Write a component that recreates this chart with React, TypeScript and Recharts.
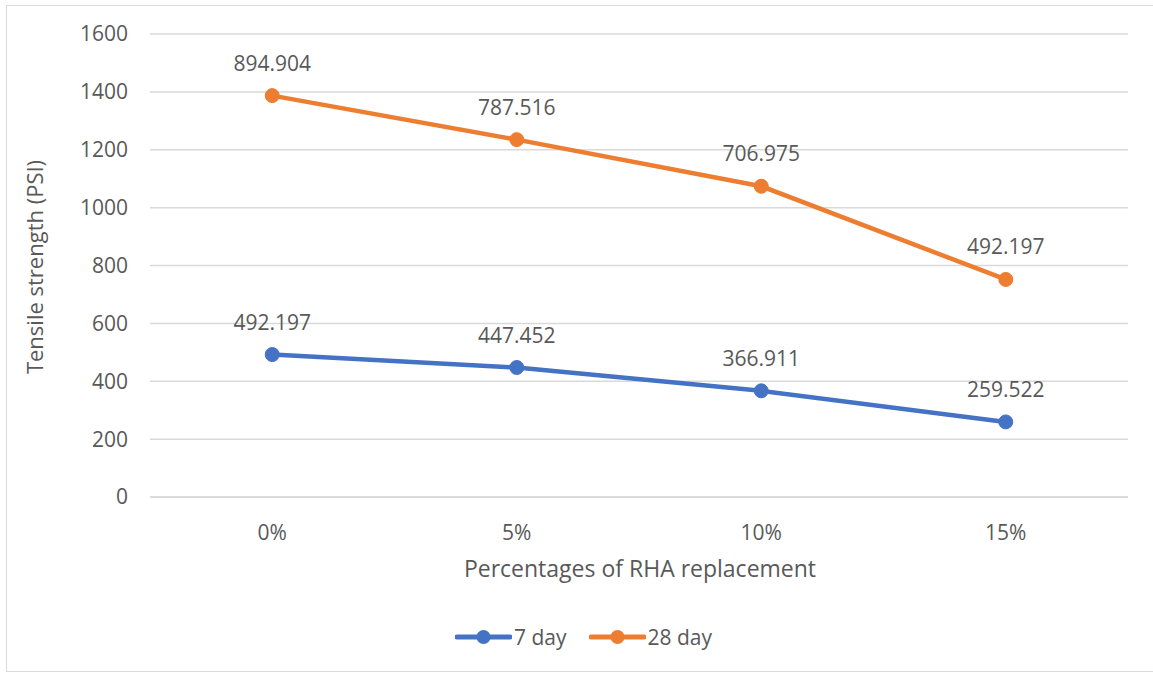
import { LineChart, Line, XAxis, YAxis, CartesianGrid, LabelList } from 'recharts';

const categories = ['0%', '5%', '10%', '15%'];
const day7 = [492.197, 447.452, 366.911, 259.522];
const day28 = [894.904, 787.516, 706.975, 492.197];
const yTicks = [0, 200, 400, 600, 800, 1000, 1200, 1400, 1600];

// Excel stacked line: 28 day is drawn on top of 7 day
const data = categories.map((c, i) => ({
  cat: c,
  d7: day7[i],
  d28: day28[i],
  top: day7[i] + day28[i],
}));

const BLUE = '#4472C4';
const ORANGE = '#ED7D31';
const TEXT = '#595959';
const FONT = '"Open Sans", sans-serif';

function LegendItem({ color, label }: { color: string; label: string }) {
  return (
    <div style={{ display: 'flex', alignItems: 'center', marginRight: 22 }}>
      <svg width={57} height={16}>
        <line x1={2} y1={8} x2={55} y2={8} stroke={color} strokeWidth={5} strokeLinecap="round" />
        <circle cx={28.5} cy={8} r={7} fill={color} />
      </svg>
      <span style={{ marginLeft: 2, fontSize: 21, color: TEXT }}>{label}</span>
    </div>
  );
}

export default function App() {
  return (
    <div
      style={{
        position: 'absolute',
        left: 0,
        top: 0,
        width: 1153,
        height: 674,
        background: '#fff',
        fontFamily: FONT,
      }}
    >
      <div
        style={{
          position: 'absolute',
          left: 6,
          top: 5,
          width: 1150,
          height: 667,
          border: '1px solid #d9d9d9',
          boxSizing: 'border-box',
        }}
      />
      <div style={{ position: 'absolute', left: 0, top: 0 }}>
        <LineChart
          width={1153}
          height={674}
          data={data}
          margin={{ top: 34, right: 25, bottom: 117, left: 70 }}
        >
          <CartesianGrid vertical={false} stroke="#d9d9d9" strokeWidth={1.5} />
          <XAxis
            dataKey="cat"
            scale="band"
            axisLine={{ stroke: '#d9d9d9', strokeWidth: 1.5 }}
            tickLine={false}
            tickSize={0}
            tickMargin={28}
            tick={{ fill: TEXT, fontSize: 21, fontFamily: FONT }}
            height={60}
          />
          <YAxis
            domain={[0, 1600]}
            ticks={yTicks}
            axisLine={false}
            tickLine={false}
            tickSize={0}
            tickMargin={22}
            width={80}
            tick={{ fill: TEXT, fontSize: 21, fontFamily: FONT }}
          />
          <Line
            dataKey="d7"
            stroke={BLUE}
            strokeWidth={4.5}
            dot={{ r: 7, fill: BLUE, stroke: BLUE, strokeWidth: 1 }}
            isAnimationActive={false}
          >
            <LabelList dataKey="d7" position="top" offset={25} fill={TEXT} fontSize={21} fontFamily={FONT} />
          </Line>
          <Line
            dataKey="top"
            stroke={ORANGE}
            strokeWidth={4.5}
            dot={{ r: 7, fill: ORANGE, stroke: ORANGE, strokeWidth: 1 }}
            isAnimationActive={false}
          >
            <LabelList dataKey="d28" position="top" offset={25} fill={TEXT} fontSize={21} fontFamily={FONT} />
          </Line>
        </LineChart>
      </div>
      <div
        style={{
          position: 'absolute',
          left: 34,
          top: 267,
          transform: 'translate(-50%, -50%) rotate(-90deg)',
          fontSize: 22,
          color: TEXT,
          whiteSpace: 'nowrap',
        }}
      >
        Tensile strength (PSI)
      </div>
      <div
        style={{
          position: 'absolute',
          left: 640,
          top: 568,
          transform: 'translate(-50%, -50%)',
          fontSize: 23,
          color: TEXT,
          whiteSpace: 'nowrap',
        }}
      >
        Percentages of RHA replacement
      </div>
      <div
        style={{
          position: 'absolute',
          left: 455,
          top: 637,
          transform: 'translate(0, -50%)',
          display: 'flex',
        }}
      >
        <LegendItem color={BLUE} label="7 day" />
        <LegendItem color={ORANGE} label="28 day" />
      </div>
    </div>
  );
}
